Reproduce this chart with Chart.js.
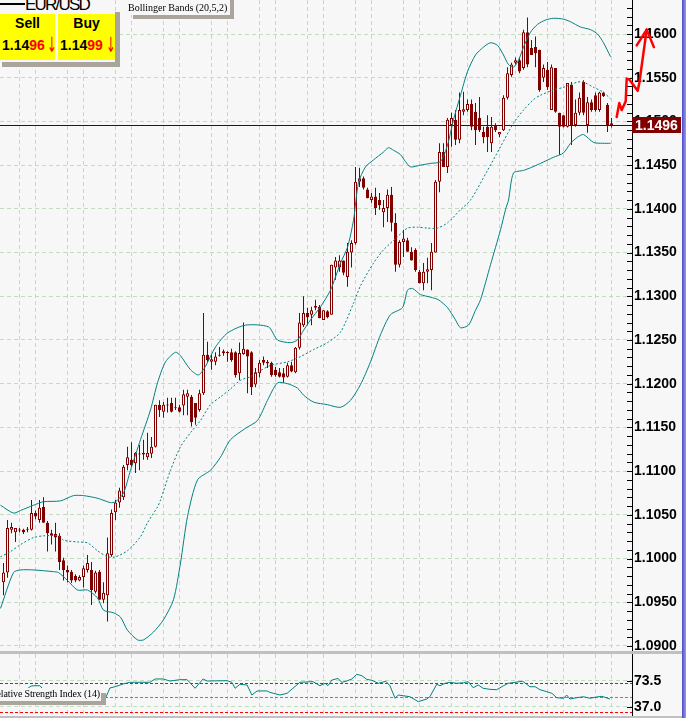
<!DOCTYPE html>
<html>
<head>
<meta charset="utf-8">
<title>EUR/USD</title>
<script src="https://cdn.jsdelivr.net/npm/chart.js@4.4.1/dist/chart.umd.min.js"></script>
<style>
  html, body { margin: 0; padding: 0; }
  body { width: 686px; height: 718px; position: relative; overflow: hidden; background: #f7f7f7;
         font-family: "Liberation Sans", Arial, sans-serif; }
  canvas { position: absolute; left: 0; }
  #priceChart { top: 0; }
  #rsiChart { top: 654px; }
  .abs { position: absolute; }
  .cover { position: absolute; background: #f7f7f7; }
  .shade { position: absolute; background: #a9a59c; }
  .sep { position: absolute; left: 0; width: 682px; background: #c0c0c0; }
  #edge { position: absolute; right: 0; top: 0; width: 4px; height: 718px;
          background: linear-gradient(to right, #4b4bc6, #9a9af0); }
  .sym { font: 17px/16px "Liberation Sans", Arial, sans-serif; letter-spacing: -1.8px; color: #000; white-space: nowrap; }
  .quote { position: absolute; top: 14px; height: 46px; background: #ffff00; }
  .side { position: absolute; left: 0; top: 1px; width: 100%; text-align: center;
          font: bold 14px/16px "Liberation Sans", Arial, sans-serif; color: #000; }
  .px { position: absolute; left: 2px; top: 23px; font: bold 14px/16px "Liberation Sans", Arial, sans-serif;
        color: #000; white-space: nowrap; }
  .px b { color: #ff0000; }
  .arr { position: absolute; top: 21px; color: #ff0000; font: 21px/21px "DejaVu Sans", sans-serif;
         transform: scaleX(0.55); transform-origin: 0 0; }
  .tag { position: absolute; font: 10px/12px "Liberation Serif", "Times New Roman", serif; white-space: nowrap; color: #000; }
</style>
</head>
<body>
<canvas id="priceChart" width="686" height="651"></canvas>
<div class="sep" style="top:651px;height:3px"></div>
<canvas id="rsiChart" width="686" height="62"></canvas>
<div class="sep" style="top:716px;height:2px"></div>
<div id="edge"></div>

<!-- quote panel -->
<div class="cover" style="left:0;top:0;width:115px;height:62px"></div>
<div class="abs" style="left:0;top:3px;width:25px;height:2px;background:#000"></div>
<div class="abs sym" style="left:25px;top:-3px">EUR/USD</div>
<div class="quote" style="left:0;width:55px">
  <div class="side">Sell</div>
  <div class="px">1.14<b>96</b></div>
  <div class="arr" style="left:47px">↓</div>
</div>
<div class="quote" style="left:58px;width:57px">
  <div class="side">Buy</div>
  <div class="px">1.14<b>99</b></div>
  <div class="arr" style="left:48px">↓</div>
</div>
<div class="shade" style="left:115px;top:12px;width:5px;height:55px"></div>
<div class="shade" style="left:2px;top:62px;width:118px;height:5px"></div>

<!-- indicator labels -->
<div class="cover" style="left:126px;top:0;width:104px;height:15px"></div>
<div class="tag" style="left:128px;top:2px">Bollinger Bands (20,5,2)</div>
<div class="shade" style="left:133px;top:15px;width:101px;height:4px"></div>
<div class="shade" style="left:230px;top:0;width:4px;height:19px"></div>

<div class="cover" style="left:0;top:688px;width:101px;height:13px"></div>
<div class="tag" style="right:586px;top:688px;letter-spacing:-0.15px">Relative Strength Index (14)</div>
<div class="shade" style="left:0;top:701px;width:106px;height:4px"></div>
<div class="shade" style="left:101px;top:693px;width:5px;height:12px"></div>

<script>
// EUR/USD bars, oldest first
const opens = [
  1.0973, 1.0984, 1.1033, 1.1030, 1.1033, 1.1033, 1.1033, 1.1033, 1.1052, 1.1044,
  1.1059, 1.1041, 1.1029, 1.1028, 1.1026, 1.0998, 1.0987, 1.0985, 1.0980, 1.0975,
  1.0979, 1.0987, 1.0987, 1.0962, 1.0985, 1.0953, 1.0958, 1.1004, 1.1053, 1.1064,
  1.1070, 1.1107, 1.1113, 1.1109, 1.1120, 1.1119, 1.1116, 1.1120, 1.1128, 1.1176,
  1.1168, 1.1176, 1.1178, 1.1173, 1.1173, 1.1175, 1.1185, 1.1185, 1.1178, 1.1170,
  1.1189, 1.1233, 1.1225, 1.1225, 1.1233, 1.1235, 1.1236, 1.1236, 1.1236, 1.1212,
  1.1234, 1.1239, 1.1236, 1.1199, 1.1212, 1.1227, 1.1223, 1.1224, 1.1216, 1.1213,
  1.1212, 1.1208, 1.1221, 1.1213, 1.1241, 1.1267, 1.1281, 1.1279, 1.1287, 1.1288,
  1.1273, 1.1283, 1.1279, 1.1333, 1.1333, 1.1341, 1.1322, 1.1350, 1.1361, 1.1431,
  1.1435, 1.1422, 1.1410, 1.1414, 1.1410, 1.1396, 1.1401, 1.1416, 1.1384, 1.1336,
  1.1362, 1.1364, 1.1351, 1.1353, 1.1328, 1.1315, 1.1328, 1.1330, 1.1350, 1.1431,
  1.1465, 1.1448, 1.1496, 1.1502, 1.1479, 1.1511, 1.1513, 1.1520, 1.1511, 1.1504,
  1.1488, 1.1494, 1.1475, 1.1496, 1.1485, 1.1490, 1.1527, 1.1553, 1.1567, 1.1570,
  1.1561, 1.1602, 1.1584, 1.1585, 1.1582, 1.1550, 1.1559, 1.1513, 1.1561, 1.1510,
  1.1507, 1.1494, 1.1542, 1.1496, 1.1510, 1.1545, 1.1496, 1.1522, 1.1530, 1.1513,
  1.1533, 1.1519, 1.1498
];
const highs = [
  1.0995, 1.1044, 1.1041, 1.1035, 1.1035, 1.1034, 1.1036, 1.1067, 1.1055, 1.1067,
  1.1070, 1.1043, 1.1033, 1.1041, 1.1029, 1.1001, 1.0992, 1.0987, 1.0982, 1.0981,
  1.0992, 1.1004, 1.0996, 1.0986, 1.0987, 1.0973, 1.1024, 1.1056, 1.1067, 1.1081,
  1.1107, 1.1128, 1.1133, 1.1122, 1.1130, 1.1136, 1.1144, 1.1139, 1.1176, 1.1181,
  1.1179, 1.1184, 1.1184, 1.1184, 1.1176, 1.1193, 1.1193, 1.1187, 1.1178, 1.1193,
  1.1281, 1.1248, 1.1233, 1.1236, 1.1242, 1.1239, 1.1237, 1.1240, 1.1237, 1.1247,
  1.1270, 1.1239, 1.1237, 1.1218, 1.1227, 1.1231, 1.1227, 1.1225, 1.1219, 1.1218,
  1.1218, 1.1224, 1.1225, 1.1242, 1.1281, 1.1300, 1.1287, 1.1288, 1.1296, 1.1290,
  1.1284, 1.1284, 1.1336, 1.1345, 1.1347, 1.1341, 1.1361, 1.1364, 1.1448, 1.1447,
  1.1437, 1.1424, 1.1418, 1.1424, 1.1418, 1.1410, 1.1422, 1.1425, 1.1395, 1.1364,
  1.1376, 1.1367, 1.1356, 1.1355, 1.1330, 1.1338, 1.1344, 1.1361, 1.1433, 1.1475,
  1.1475, 1.1504, 1.1510, 1.1513, 1.1533, 1.1534, 1.1525, 1.1525, 1.1521, 1.1528,
  1.1494, 1.1507, 1.1505, 1.1498, 1.1488, 1.1530, 1.1562, 1.1567, 1.1573, 1.1573,
  1.1605, 1.1619, 1.1593, 1.1597, 1.1582, 1.1565, 1.1568, 1.1565, 1.1561, 1.1510,
  1.1507, 1.1544, 1.1545, 1.1525, 1.1533, 1.1547, 1.1528, 1.1525, 1.1533, 1.1534,
  1.1534, 1.1521, 1.1504
];
const lows = [
  1.0958, 1.0978, 1.1029, 1.1019, 1.1030, 1.1028, 1.1030, 1.1032, 1.1045, 1.1041,
  1.1041, 1.1008, 1.1016, 1.1008, 1.0987, 1.0975, 1.0973, 1.0972, 1.0973, 1.0974,
  1.0967, 1.0984, 1.0947, 1.0960, 1.0953, 1.0949, 1.0928, 1.1002, 1.1044, 1.1058,
  1.1067, 1.1101, 1.1105, 1.1098, 1.1101, 1.1113, 1.1113, 1.1115, 1.1127, 1.1162,
  1.1161, 1.1167, 1.1167, 1.1170, 1.1167, 1.1164, 1.1164, 1.1151, 1.1153, 1.1168,
  1.1187, 1.1224, 1.1216, 1.1221, 1.1231, 1.1232, 1.1225, 1.1225, 1.1207, 1.1204,
  1.1233, 1.1189, 1.1187, 1.1196, 1.1207, 1.1221, 1.1218, 1.1208, 1.1208, 1.1207,
  1.1201, 1.1207, 1.1213, 1.1212, 1.1239, 1.1265, 1.1267, 1.1267, 1.1284, 1.1275,
  1.1273, 1.1275, 1.1279, 1.1319, 1.1328, 1.1324, 1.1311, 1.1333, 1.1359, 1.1425,
  1.1422, 1.1412, 1.1407, 1.1393, 1.1399, 1.1379, 1.1385, 1.1374, 1.1328, 1.1333,
  1.1345, 1.1351, 1.1341, 1.1328, 1.1315, 1.1307, 1.1315, 1.1307, 1.1350, 1.1419,
  1.1448, 1.1441, 1.1471, 1.1473, 1.1475, 1.1507, 1.1511, 1.1490, 1.1473, 1.1488,
  1.1475, 1.1465, 1.1465, 1.1488, 1.1482, 1.1489, 1.1525, 1.1551, 1.1565, 1.1555,
  1.1559, 1.1562, 1.1576, 1.1562, 1.1534, 1.1545, 1.1536, 1.1513, 1.1510, 1.1462,
  1.1493, 1.1493, 1.1473, 1.1494, 1.1507, 1.1507, 1.1487, 1.1511, 1.1511, 1.1511,
  1.1528, 1.1488, 1.1493
];
const closes = [
  1.0984, 1.1035, 1.1036, 1.1035, 1.1032, 1.1030, 1.1034, 1.1052, 1.1048, 1.1058,
  1.1041, 1.1029, 1.1026, 1.1024, 1.0996, 1.0987, 1.0984, 1.0975, 1.0975, 1.0979,
  1.0989, 1.0995, 1.0964, 1.0984, 1.0953, 1.0961, 1.1006, 1.1052, 1.1064, 1.1078,
  1.1105, 1.1116, 1.1107, 1.1121, 1.1119, 1.1121, 1.1121, 1.1128, 1.1176, 1.1170,
  1.1176, 1.1175, 1.1168, 1.1172, 1.1168, 1.1188, 1.1189, 1.1156, 1.1161, 1.1189,
  1.1233, 1.1227, 1.1228, 1.1231, 1.1232, 1.1237, 1.1235, 1.1227, 1.1210, 1.1235,
  1.1240, 1.1231, 1.1196, 1.1213, 1.1224, 1.1224, 1.1225, 1.1210, 1.1210, 1.1208,
  1.1207, 1.1221, 1.1214, 1.1241, 1.1270, 1.1281, 1.1276, 1.1284, 1.1289, 1.1275,
  1.1284, 1.1276, 1.1336, 1.1341, 1.1341, 1.1327, 1.1351, 1.1361, 1.1431, 1.1435,
  1.1424, 1.1412, 1.1414, 1.1401, 1.1404, 1.1401, 1.1416, 1.1384, 1.1336, 1.1362,
  1.1366, 1.1351, 1.1341, 1.1330, 1.1315, 1.1328, 1.1331, 1.1351, 1.1431, 1.1465,
  1.1448, 1.1502, 1.1504, 1.1479, 1.1513, 1.1514, 1.1520, 1.1494, 1.1490, 1.1490,
  1.1482, 1.1482, 1.1494, 1.1490, 1.1488, 1.1527, 1.1555, 1.1565, 1.1570, 1.1557,
  1.1602, 1.1565, 1.1576, 1.1578, 1.1536, 1.1561, 1.1539, 1.1562, 1.1511, 1.1494,
  1.1494, 1.1544, 1.1496, 1.1510, 1.1527, 1.1510, 1.1522, 1.1513, 1.1513, 1.1533,
  1.1529, 1.1496, 1.1496
];

// Bollinger Bands (20,5,2): bar position -> price
const upperBars = [-0.75, 2.5, 4.25, 7.5, 10, 14.25, 17.5, 20, 23.5, 26.75, 28, 30, 31.75, 34.25, 36.75, 38.5,
  40.5, 43, 44.25, 46.75, 48.75, 50.5, 53, 56, 60.5, 66.25, 68.5, 71.75, 73.5, 75, 76.75, 79.25, 81.75, 84.25,
  86, 87.5, 88.75, 90.5, 92.5, 95, 96.25, 97.5, 99.25, 100.5, 101.75, 104.25, 106.75, 109.25, 111, 112.5,
  114.25, 116, 118, 120, 121.75, 123.5, 125, 126.25, 127.5, 128.75, 130, 131.75, 133.5, 135.5, 137.5, 140,
  141.75, 144.25, 146.75, 148.5, 150, 151.75];
const upperBand = [1.1061, 1.1052, 1.1055, 1.1061, 1.1065, 1.1066, 1.1072, 1.1072, 1.1069, 1.1064, 1.1065,
  1.1075, 1.1101, 1.1136, 1.1170, 1.1201, 1.1225, 1.1236, 1.1232, 1.1216, 1.1210, 1.1220, 1.1242, 1.1258,
  1.1267, 1.1265, 1.1250, 1.1247, 1.1250, 1.1261, 1.1273, 1.1288, 1.1307, 1.1338, 1.1356, 1.1387, 1.1430,
  1.1448, 1.1456, 1.1465, 1.1470, 1.1467, 1.1462, 1.1454, 1.1448, 1.1450, 1.1452, 1.1454, 1.1473, 1.1502,
  1.1530, 1.1557, 1.1576, 1.1585, 1.1590, 1.1587, 1.1576, 1.1565, 1.1562, 1.1570, 1.1585, 1.1602, 1.1611,
  1.1616, 1.1618, 1.1617, 1.1614, 1.1608, 1.1605, 1.1600, 1.1590, 1.1574];
const midBars = [-0.75, 1.75, 4.25, 7.5, 10, 13.75, 15, 18.5, 21, 23.5, 26, 28, 31, 34.25, 36, 38.5, 39.25,
  41.75, 44.25, 46.75, 49.25, 51.75, 54.25, 56.75, 59.25, 61.75, 63.5, 66.75, 71, 74.25, 77.5, 81, 84.25,
  87.5, 89.25, 92.5, 95, 98.5, 101, 103.5, 106, 108.5, 111, 114.25, 116.75, 121, 124.25, 127.5, 130, 132.5,
  134.25, 137.5, 140, 143.5, 145, 147.5, 149.75, 151.75];
const midBand = [1.1002, 1.1008, 1.1016, 1.1024, 1.1026, 1.1026, 1.1021, 1.1019, 1.1018, 1.1009, 1.1002,
  1.1002, 1.1009, 1.1025, 1.1041, 1.1059, 1.1067, 1.1101, 1.1128, 1.1144, 1.1158, 1.1176, 1.1185, 1.1194,
  1.1204, 1.1208, 1.1213, 1.1221, 1.1225, 1.1231, 1.1239, 1.1247, 1.1259, 1.1292, 1.1312, 1.1338, 1.1353,
  1.1368, 1.1378, 1.1379, 1.1378, 1.1378, 1.1384, 1.1399, 1.1410, 1.1444, 1.1471, 1.1498, 1.1513, 1.1525,
  1.1530, 1.1536, 1.1539, 1.1545, 1.1545, 1.1539, 1.1534, 1.1526];
const lowerBars = [-0.75, 2.5, 4.25, 7.5, 12.5, 13.75, 16, 18.5, 21, 23.5, 25, 27.5, 29.25, 31, 33.5, 35,
  37.5, 40, 42.5, 44.25, 46, 48.5, 51.75, 54.25, 56.75, 60.5, 63.5, 66, 68.5, 71, 73.5, 75, 77.5, 81, 84.25,
  86.75, 89.25, 91.75, 94.25, 96.75, 99.75, 101, 102.25, 104.25, 106.75, 108.75, 111, 113, 114.25, 116.25,
  118, 119.25, 121.75, 124.25, 125.5, 126.25, 127.5, 130, 131.75, 134.25, 137.5, 140, 141.75, 143.5, 145,
  147.5, 149.75, 151.75];
const lowerBand = [1.0943, 1.0984, 1.0987, 1.0987, 1.0985, 1.0984, 1.0975, 1.0964, 1.0964, 1.0955, 1.0941,
  1.0938, 1.0933, 1.0918, 1.0907, 1.0907, 1.0916, 1.0930, 1.0953, 1.0995, 1.1048, 1.1090, 1.1101, 1.1116,
  1.1136, 1.1149, 1.1158, 1.1181, 1.1201, 1.1200, 1.1195, 1.1187, 1.1179, 1.1176, 1.1173, 1.1181, 1.1199,
  1.1225, 1.1256, 1.1279, 1.1287, 1.1307, 1.1309, 1.1302, 1.1299, 1.1296, 1.1287, 1.1273, 1.1264, 1.1267,
  1.1284, 1.1296, 1.1336, 1.1376, 1.1399, 1.1410, 1.1441, 1.1444, 1.1447, 1.1452, 1.1459, 1.1464, 1.1475,
  1.1482, 1.1485, 1.1476, 1.1475, 1.1475];

// Relative Strength Index (14)
const rsiBars = [-0.9, 2.1, 4.6, 5.9, 6.9, 7.9, 9.1, 10.1, 11.6, 14.1, 16.6, 19.1, 21.1, 22.1, 23.1, 24.1,
  25.1, 26.6, 27.9, 29.9, 31.6, 36.6, 37.9, 39.9, 41.6, 44.1, 45.9, 47.9, 49.9, 50.9, 55.9, 57.1, 57.9, 59.1,
  60.9, 62.1, 63.4, 65.9, 66.6, 69.1, 70.9, 74.1, 77.4, 79.1, 80.4, 81.1, 82.1, 83.6, 84.6, 85.8, 87.1, 88.3,
  89.6, 90.8, 92.1, 93.7, 95.6, 96.6, 97.9, 98.7, 99.9, 101.6, 103.7, 105.8, 106.6, 108.3, 109.1, 110.4,
  111.6, 113.3, 115, 116.2, 117.4, 118.7, 119.9, 121.6, 123.3, 125, 126.2, 127.9, 129.8, 130.8, 131.6, 132.9,
  134.1, 135.8, 137.1, 138.3, 140, 140.8, 141.6, 143.3, 145, 146.6, 148.3, 149.6, 151.6];
const rsiValues = [42.3, 40.8, 46.5, 62, 66.2, 66.6, 66.6, 60.6, 46.5, 42.3, 40.8, 42.3, 46.5, 39.4, 47.9,
  39.4, 43.7, 63.4, 65.2, 69, 71.4, 71.4, 76.1, 76.1, 73.2, 75.1, 75.1, 63, 76.1, 73.2, 73.7, 71.4, 63, 68.6,
  67.6, 53.5, 59.2, 59.2, 57.3, 53.5, 55.9, 71.4, 72.3, 66.6, 70, 66.6, 74.6, 76.8, 71.4, 73.2, 76.1, 82.7,
  80.7, 75.6, 74.2, 70, 72.8, 66.6, 48.9, 53.5, 52.5, 51.1, 44.1, 47.9, 51.1, 68.6, 66.6, 70, 71.4, 70,
  70.8, 72.3, 63.8, 67.6, 63, 61.5, 61, 66.6, 70, 71.4, 72.8, 68.6, 65.2, 65.2, 61, 58.2, 55.9, 49.7, 48.9,
  53.5, 47.9, 49.7, 51.1, 48.9, 50.7, 51.7, 47.9];
const rsiLevels = [70, 50, 30];
const rsiTicks = [73.5, 37.0];
const rsiLabels = ['73.5', '37.0'];

// axes
const priceTicks = [1.09, 1.095, 1.10, 1.105, 1.11, 1.115, 1.12, 1.125, 1.13, 1.135, 1.14, 1.145, 1.15, 1.155, 1.16];
const priceLabels = ['1.0900', '1.0950', '1.1000', '1.1050', '1.1100', '1.1150', '1.1200', '1.1250',
  '1.1300', '1.1350', '1.1400', '1.1450', '1.1500', '1.1550', '1.1600'];
const gridBars = [4, 8, 16, 20, 28, 32, 40, 44, 52, 56, 64, 68, 76, 80, 88, 92, 100, 104, 112, 116, 124, 128,
  136, 140, 148, 152];
const bidPrice = 1.1496;

// hand-drawn red arrow on the right (bar position, price)
const arrowBars = [153.3, 153.95, 154.55, 155.55, 155.8, 156.45, 158.55, 158.95, 160.8];
const arrowPrices = [1.1505, 1.1521, 1.1513, 1.1523, 1.1549, 1.1548, 1.1535, 1.1544, 1.1605];
const headBars = [158.3, 160.8, 162.6];
const headPrices = [1.1587, 1.1605, 1.1585];

const plotBg = '#f7f7f7';
const candleRed = '#800000';
const teal = '#008080';
const gridGreen = '#c2dcc2';
const axisFont = { family: '"Liberation Sans", Arial, sans-serif', size: 14, weight: 'bold' };

function timeAxis() {
  return {
    type: 'linear', min: -0.875, max: 157.125, offset: false,
    afterBuildTicks: s => { s.ticks = gridBars.map(v => ({ value: v })); },
    afterFit: s => { s.height = 0; s.paddingLeft = 0; s.paddingRight = 0; },
    ticks: { display: false },
    grid: { color: gridGreen, drawTicks: false, offset: false },
    border: { display: false, dash: [4, 3] }
  };
}

function valueAxis(min, max, ticks, labels) {
  return {
    position: 'right', min: min, max: max,
    afterBuildTicks: s => { s.ticks = ticks.map(v => ({ value: v })); },
    afterFit: s => { s.width = 54; s.paddingTop = 0; s.paddingBottom = 0; },
    ticks: { callback: (v, i) => labels[i], color: '#000', font: axisFont, padding: 2, autoSkip: false },
    grid: { color: gridGreen, drawTicks: false },
    border: { display: true, color: '#000', width: 1, dash: [4, 3] }
  };
}

function inwardTicks(ctx, area, scale, values) {
  ctx.strokeStyle = '#000';
  ctx.lineWidth = 1;
  values.forEach(v => {
    const py = Math.round(scale.getPixelForValue(v)) + 0.5;
    if (py < area.top || py > area.bottom) return;
    ctx.beginPath();
    ctx.moveTo(area.right - 5, py);
    ctx.lineTo(area.right + 1, py);
    ctx.stroke();
  });
}

const priceDecor = {
  id: 'priceDecor',
  beforeDatasetsDraw(chart) {
    const { ctx, chartArea: a, scales: { y } } = chart;
    const py = Math.round(y.getPixelForValue(bidPrice)) + 0.5;
    ctx.save();
    ctx.strokeStyle = '#5a0000';
    ctx.lineWidth = 1;
    ctx.beginPath();
    ctx.moveTo(a.left, py);
    ctx.lineTo(a.right, py);
    ctx.stroke();
    ctx.restore();
  },
  afterDraw(chart) {
    const { ctx, chartArea: a, scales: { x, y } } = chart;
    ctx.save();
    // a mark every 10 pips on the inner side of the price axis
    const marks = [];
    for (let k = 0; k <= 74; k++) marks.push(1.09 + k * 0.001);
    inwardTicks(ctx, a, y, marks);

    // bid price tag
    const by = Math.round(y.getPixelForValue(bidPrice));
    ctx.fillStyle = candleRed;
    ctx.fillRect(a.right, by - 8, 49, 16);
    ctx.fillStyle = '#fff';
    ctx.font = 'bold 14px "Liberation Sans", Arial, sans-serif';
    ctx.textBaseline = 'middle';
    ctx.fillText(bidPrice.toFixed(4), a.right + 3, by + 1);

    // red arrow
    ctx.strokeStyle = '#ff0000';
    ctx.lineWidth = 2.5;
    ctx.lineJoin = 'round';
    ctx.lineCap = 'round';
    [[arrowBars, arrowPrices], [headBars, headPrices]].forEach(([bars, prices]) => {
      ctx.beginPath();
      bars.forEach((b, k) => {
        const px = x.getPixelForValue(b), py = y.getPixelForValue(prices[k]);
        if (k) ctx.lineTo(px, py); else ctx.moveTo(px, py);
      });
      ctx.stroke();
    });
    ctx.restore();
  }
};

const rsiDecor = {
  id: 'rsiDecor',
  beforeDatasetsDraw(chart) {
    const { ctx, chartArea: a, scales: { y } } = chart;
    const colors = ['#ff0000', '#808080', '#ff0000'];
    ctx.save();
    ctx.lineWidth = 1;
    ctx.setLineDash([3, 2]);
    rsiLevels.forEach((lv, k) => {
      const py = Math.round(y.getPixelForValue(lv)) + 0.5;
      ctx.strokeStyle = colors[k];
      ctx.beginPath();
      ctx.moveTo(a.left, py);
      ctx.lineTo(a.right, py);
      ctx.stroke();
    });
    ctx.restore();
  },
  afterDraw(chart) {
    const { ctx, chartArea: a, scales: { y } } = chart;
    ctx.save();
    inwardTicks(ctx, a, y, rsiTicks);
    ctx.restore();
  }
};

const common = {
  responsive: false,
  maintainAspectRatio: false,
  animation: false,
  devicePixelRatio: 1,
  events: [],
  layout: { padding: 0 },
  plugins: { legend: { display: false }, tooltip: { enabled: false } }
};

const band = (bars, vals, dash) => ({
  type: 'line',
  data: bars.map((b, k) => ({ x: b, y: vals[k] })),
  borderColor: teal,
  borderWidth: 1,
  borderDash: dash,
  pointRadius: 0,
  tension: 0.25,
  fill: false
});

new Chart(document.getElementById('priceChart'), {
  type: 'line',
  data: {
    datasets: [
      band(upperBars, upperBand, []),
      band(midBars, midBand, [2, 2]),
      band(lowerBars, lowerBand, []),
      {
        type: 'bar',
        data: opens.map((o, i) => ({ x: i, y: [o, closes[i]] })),
        backgroundColor: opens.map((o, i) => closes[i] > o ? plotBg : candleRed),
        borderColor: candleRed,
        borderWidth: 1,
        borderSkipped: false,
        barThickness: 3,
        minBarLength: 1,
        grouped: false,
        inflateAmount: 0
      },
      {
        type: 'bar',
        data: lows.map((l, i) => ({ x: i, y: [l, highs[i]] })),
        backgroundColor: candleRed,
        borderWidth: 0,
        barThickness: 1,
        grouped: false,
        inflateAmount: 0
      }
    ]
  },
  options: Object.assign({}, common, {
    scales: {
      x: timeAxis(),
      y: valueAxis(1.089428, 1.163889, priceTicks, priceLabels)
    }
  }),
  plugins: [priceDecor]
});

new Chart(document.getElementById('rsiChart'), {
  type: 'line',
  data: {
    datasets: [{
      data: rsiBars.map((b, k) => ({ x: b, y: rsiValues[k] })),
      borderColor: teal,
      borderWidth: 1,
      pointRadius: 0,
      tension: 0,
      fill: false
    }]
  },
  options: Object.assign({}, common, {
    scales: {
      x: timeAxis(),
      y: valueAxis(23.94, 111.27, rsiTicks, rsiLabels)
    }
  }),
  plugins: [rsiDecor]
});
</script>
</body>
</html>
